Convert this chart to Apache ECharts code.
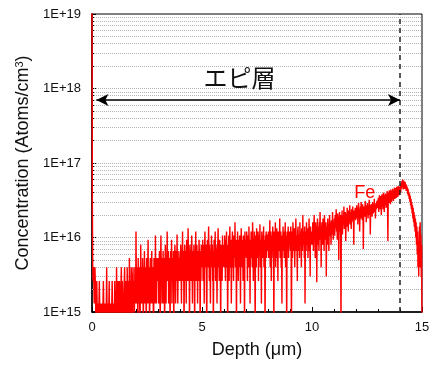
<!DOCTYPE html>
<html><head><meta charset="utf-8">
<script src="https://cdn.jsdelivr.net/npm/echarts@6/dist/echarts.min.js"></script>
<style>html,body{margin:0;padding:0;background:#fff}#c{width:433px;height:367px}</style>
</head><body><div id="c"></div>
<script>
// Fe SIMS profile, concentration in units of 1E15 atoms/cm3; each row covers 1 µm of depth
const feRow0  = [12000, 30, 4, 2.6, 4, 2.6, 1.3, 2.6, 4, 2.6, 1.3, 0.5, 1.3, 2.6, 1.3, 0.5, 1.3, 1.3, 0.5, 1.3, 2.6, 1.3, 0.5, 1.3, 1.3, 0.5, 0.5, 1.3, 1.3, 0.5, 1.3, 2.6, 1.3, 0.5, 1.3, 0.5, 1.3, 1.3, 0.5, 1.3, 4, 1.3, 0.5, 1.3, 1.3, 0.5, 1.3, 2.6, 0.5, 1.3, 1.3, 0.5, 1.3, 0.5, 1.3, 2.6, 1.3, 0.5, 1.3, 1.3];
const feRow1  = [1.3, 0.5, 2.6, 1.3, 1.3, 0.5, 1.3, 4, 1.3, 0.5, 1.3, 2.6, 1.3, 1.3, 0.5, 2.6, 1.3, 0.5, 1.3, 1.3, 4, 1.3, 0.5, 2.6, 1.3, 1.3, 0.5, 1.3, 2.6, 4, 1.3, 0.5, 1.3, 2.6, 1.3, 0.5, 4, 1.3, 2.6, 1.3, 0.5, 1.3, 5.3, 1.3, 2.6, 0.5, 1.3, 4, 2.6, 1.3, 0.5, 2.6, 4, 1.3, 2.6, 0.5, 1.3, 4, 2.6, 1.3];
const feRow2  = [12, 2.6, 1.3, 4, 2.6, 0.5, 5.3, 1.3, 2.6, 4, 1.3, 0.5, 2.6, 8, 1.3, 4, 2.6, 1.3, 5.3, 2.6, 0.5, 4, 1.3, 6.6, 2.6, 1.3, 4, 2.6, 0.5, 5.3, 1.3, 2.6, 4, 9.3, 1.3, 2.6, 4, 0.5, 2.6, 5.3, 1.3, 4, 2.6, 6.6, 1.3, 2.6, 4, 1.3, 0.5, 5.3, 2.6, 4, 1.3, 10.6, 2.6, 4, 1.3, 5.3, 2.6, 4];
const feRow3  = [2.6, 5.3, 1.3, 4, 6.6, 2.6, 0.5, 4, 10.6, 2.6, 5.3, 1.3, 4, 2.6, 6.6, 1.3, 4, 5.3, 0.5, 2.6, 8, 4, 1.3, 5.3, 2.6, 12, 4, 2.6, 6.6, 1.3, 4, 5.3, 2.6, 0.5, 6.6, 4, 2.6, 9.3, 1.3, 5.3, 4, 2.6, 6.6, 0.5, 4, 2.6, 8, 5.3, 1.3, 4, 6.6, 2.6, 11, 4, 1.3, 5.3, 2.6, 6.6, 4, 2.6];
const feRow4  = [5.3, 2.6, 8, 4, 1.3, 6.6, 5.3, 12, 2.6, 4, 6.6, 0.5, 5.3, 8, 2.6, 4, 6.6, 1.3, 9.3, 5.3, 2.6, 4, 13.3, 6.6, 2.6, 5.3, 0.5, 8, 4, 6.6, 2.6, 5.3, 10.6, 4, 1.3, 6.6, 5.3, 2.6, 8, 4, 0.5, 6.6, 5.3, 12, 2.6, 4, 8, 5.3, 1.3, 6.6, 4, 2.6, 9.3, 5.3, 4, 0.5, 6.6, 2.6, 8, 5.3];
const feRow5  = [6.6, 4, 9.3, 2.6, 5.3, 8, 1.3, 6.6, 12, 4, 5.3, 8, 2.6, 0.5, 6.6, 9.3, 4, 5.3, 14, 6.6, 2.6, 8, 4, 1.3, 6.6, 5.3, 10.6, 4, 8, 2.6, 6.6, 0.5, 5.3, 9.3, 4, 6.6, 12, 2.6, 8, 5.3, 4, 1.3, 6.6, 8, 13.3, 4, 5.3, 2.6, 9.3, 6.6, 4, 0.5, 8, 5.3, 6.6, 2.6, 10.6, 4, 8, 5.3];
const feRow6  = [8, 4, 10.6, 5.3, 2.6, 9.3, 6.6, 12, 4, 8, 0.5, 6.6, 5.3, 10.6, 2.6, 8, 14, 4, 6.6, 9.3, 1.3, 5.3, 8, 12, 4, 6.6, 2.6, 10.6, 8, 5.3, 16, 4, 6.6, 9.3, 0.5, 8, 5.3, 12, 6.6, 2.6, 9.3, 4, 8, 10.6, 5.3, 1.3, 6.6, 13.3, 8, 4, 9.3, 6.6, 2.6, 10.6, 5.3, 8, 0.5, 12, 6.6, 9.3];
const feRow7  = [9.3, 5.3, 12, 6.6, 2.6, 10.6, 8, 4, 14, 6.6, 9.3, 1.3, 8, 5.3, 12, 6.6, 10.6, 4, 16, 8, 2.6, 9.3, 6.6, 12, 5.3, 0.5, 10.6, 8, 4, 13.3, 6.6, 9.3, 5.3, 12, 2.6, 8, 10.6, 6.6, 15, 4, 9.3, 8, 1.3, 12, 6.6, 10.6, 5.3, 8, 14, 4, 9.3, 6.6, 0.5, 10.6, 8, 12, 5.3, 9.3, 6.6, 11];
const feRow8  = [8, 12, 5.3, 10.6, 6.6, 17, 4, 9.3, 12, 2.6, 8, 10.6, 6.6, 14, 5.3, 9.3, 0.5, 12, 8, 6.6, 16, 4, 10.6, 8, 13.3, 5.3, 9.3, 2.6, 12, 6.6, 10.6, 8, 18, 5.3, 9.3, 12, 4, 8, 1.3, 10.6, 6.6, 14, 8, 12, 5.3, 9.3, 6.6, 16, 4, 10.6, 8, 0.5, 12, 9.3, 6.6, 14, 5.3, 10.6, 8, 12];
const feRow9  = [10.6, 6.6, 14, 8, 0.5, 12, 9.3, 5.3, 16, 8, 10.6, 6.6, 13.3, 4, 12, 9.3, 18, 6.6, 10.6, 8, 2.6, 12, 14, 6.6, 9.3, 11, 5.3, 16, 8, 12, 10.6, 4, 13.3, 9.3, 6.6, 20, 8, 12, 10.6, 5.3, 14, 1.3, 9.3, 12, 6.6, 16, 10.6, 8, 13.3, 5.3, 12, 9.3, 18, 6.6, 10.6, 3, 14, 8, 12, 10.6];
const feRow10 = [12, 8, 16, 10.6, 6.6, 14, 20, 9.3, 12, 5.3, 16, 10.6, 13.3, 2.5, 12, 18, 8, 14, 10.6, 6.6, 16, 12, 22, 9.3, 13.3, 4, 12, 16, 10.6, 8, 18, 12, 14, 6.6, 20, 10.6, 13.3, 9.3, 16, 3, 12, 14, 8, 18, 11, 15, 6.6, 13.3, 20, 10.6, 16, 12, 8, 17, 14, 11, 22, 13, 9.3, 16];
const feRow11 = [14, 18, 10.6, 20, 13.3, 16, 24, 12, 17, 9.3, 21, 15, 19, 5, 14, 22, 16, 12, 20, 0.5, 18, 14, 23, 11, 17, 20, 15, 26, 13, 19, 16, 22, 9, 18, 21, 14, 25, 17, 19, 12, 23, 16, 20, 27, 15, 18, 22, 13, 24, 17, 20, 26, 16, 19, 8, 23, 18, 21, 25, 17];
const feRow12 = [22, 18, 27, 20, 25, 15, 23, 29, 19, 24, 12, 21, 26, 18, 30, 22, 25, 17, 28, 23, 7, 20, 26, 24, 19, 31, 22, 27, 16, 25, 21, 29, 24, 18, 26, 23, 32, 20, 27, 11, 24, 28, 22, 26, 19, 30, 25, 21, 28, 24, 33, 22, 27, 18, 26, 29, 24, 31, 25, 28];
const feRow13 = [27, 34, 22, 31, 37, 24, 33, 26, 36, 20, 31, 38, 26, 35, 24, 40, 29, 22, 37, 28, 39, 30, 25, 38, 31, 42, 27, 9, 36, 40, 29, 43, 32, 39, 28, 44, 34, 30, 42, 33, 45, 35, 31, 43, 36, 47, 33, 44, 37, 46, 34, 48, 38, 45, 35, 49, 39, 47, 37, 48];
const feRow14 = [44, 50, 40, 53, 45, 57, 47, 60, 50, 44, 58, 49, 54, 45, 56, 48, 52, 42, 50, 44, 47, 38, 45, 36, 41, 33, 39, 30, 36, 27, 33, 24, 30, 21, 27, 18, 25, 16, 22, 14, 20, 12, 18, 10, 16, 8, 14, 6, 12, 4, 9, 3, 7, 14, 4, 16, 6, 11, 3, 8];
const feEnd   = [0.5];
const concUnit = 1e15;

const yTickLabels = ['1E+15', '1E+16', '1E+17', '1E+18', '1E+19'];
const xTickLabels = ['0', '5', '10', '15'];
const epiEdge = 14;          // µm, epitaxial layer boundary
const arrowLevel = 7e17;     // arrow height
const arrowStart = 0.2;
const epiLabelPos = [6.7, 1.4e18];
const feLabelPos = [12.4, 4e16];

const feRows = [feRow0, feRow1, feRow2, feRow3, feRow4, feRow5, feRow6, feRow7,
  feRow8, feRow9, feRow10, feRow11, feRow12, feRow13, feRow14];
const feData = [];
feRows.forEach((row, r) => row.forEach((v, j) => feData.push([r + j / row.length, v * concUnit])));
feEnd.forEach(v => feData.push([feRows.length, v * concUnit]));

const gridVals = [];
for (let k = 15; k <= 18; k++) {
  for (let m = 1; m <= 9; m++) {
    if (m === 1 && k === 15) continue;
    gridVals.push(m * Math.pow(10, k));
  }
}
const minorVals = gridVals.filter(v => Math.abs(Math.log10(v) - Math.round(Math.log10(v))) > 1e-6);

const font = '"Liberation Sans", Arial, sans-serif';
const chart = echarts.init(document.getElementById('c'), null, {renderer: 'canvas'});
chart.setOption({
  animation: false,
  backgroundColor: '#fff',
  grid: {left: 92, right: 11, top: 14, bottom: 55, show: true, borderColor: '#000', borderWidth: 1, outerBoundsMode: 'none', containLabel: false},
  xAxis: {
    type: 'value', min: 0, max: 15, interval: 5,
    name: 'Depth (μm)', nameLocation: 'middle', nameGap: 29,
    nameTextStyle: {fontFamily: font, fontSize: 18, color: '#111'},
    axisLine: {show: true, onZero: false, lineStyle: {color: '#000', width: 1.5}},
    axisTick: {show: true, inside: true, length: 5, lineStyle: {color: '#000', width: 1}},
    minorTick: {show: true, splitNumber: 5, length: 3, lineStyle: {color: '#000', width: 1}},
    splitLine: {show: false},
    axisLabel: {fontFamily: font, fontSize: 13, color: '#111', margin: 9,
      formatter: v => xTickLabels[Math.round(v / 5)]}
  },
  yAxis: [{
    type: 'log', logBase: 10, min: 1e15, max: 1e19,
    name: 'Concentration (Atoms/cm{sup|3})', nameLocation: 'middle', nameGap: 59,
    nameTextStyle: {fontFamily: font, fontSize: 18, color: '#111',
      rich: {sup: {fontFamily: font, fontSize: 11, color: '#111', verticalAlign: 'top', lineHeight: 18}}},
    axisLine: {show: true, lineStyle: {color: '#000', width: 1.5}},
    axisTick: {show: true, inside: true, length: 4, lineStyle: {color: '#000'}},
    splitLine: {show: false},
    axisLabel: {fontFamily: font, fontSize: 13, color: '#111', margin: 11, showMinLabel: true, showMaxLabel: true,
      formatter: v => yTickLabels[Math.round(Math.log10(v)) - 15]}
  }, {
    type: 'log', logBase: 10, min: 1e15, max: 1e19, position: 'left',
    axisLine: {show: false},
    axisTick: {show: true, inside: true, length: 3, lineStyle: {color: '#000'}, customValues: minorVals},
    axisLabel: {show: false},
    splitLine: {show: false}
  }],
  series: [{
    type: 'line', z: 1, silent: true, symbol: 'none',
    data: [[0, 1e14]], lineStyle: {opacity: 0},
    markLine: {z: 1, silent: true, symbol: ['none', 'none'], label: {show: false},
      lineStyle: {type: 'dotted', color: '#b4b4b4', width: 1},
      data: gridVals.map(v => ({yAxis: v}))}
  }, {
    name: 'Fe', type: 'line', z: 3, data: feData, symbol: 'none', showSymbol: false,
    sampling: 'none', clip: true,
    lineStyle: {color: '#ff0000', width: 1.4}
  }, {
    type: 'line', z: 4, silent: true, symbol: 'none', data: [[0, 1e14]], lineStyle: {opacity: 0},
    markLine: {z: 6, silent: true, label: {show: false},
      data: [
        [{coord: [epiEdge, 1e15], symbol: 'none', lineStyle: {type: [5, 4], color: '#222', width: 1.5}},
         {coord: [epiEdge, 1e19], symbol: 'none'}],
        [{coord: [arrowStart, arrowLevel], symbol: 'arrow', symbolSize: [9, 12], lineStyle: {type: 'solid', color: '#000', width: 1.5}},
         {coord: [epiEdge, arrowLevel], symbol: 'arrow', symbolSize: [9, 12]}]
      ]},
    markPoint: {z: 6, silent: true, symbol: 'circle', symbolSize: 0,
      data: [
        {coord: epiLabelPos, label: {show: true, position: 'inside', formatter: 'エピ層', fontFamily: '"Noto Sans CJK JP", sans-serif', fontSize: 24, color: '#111'}},
        {coord: feLabelPos, label: {show: true, position: 'inside', formatter: 'Fe', fontFamily: font, fontSize: 18, color: '#ff0000'}}
      ]}
  }]
});
</script></body></html>
